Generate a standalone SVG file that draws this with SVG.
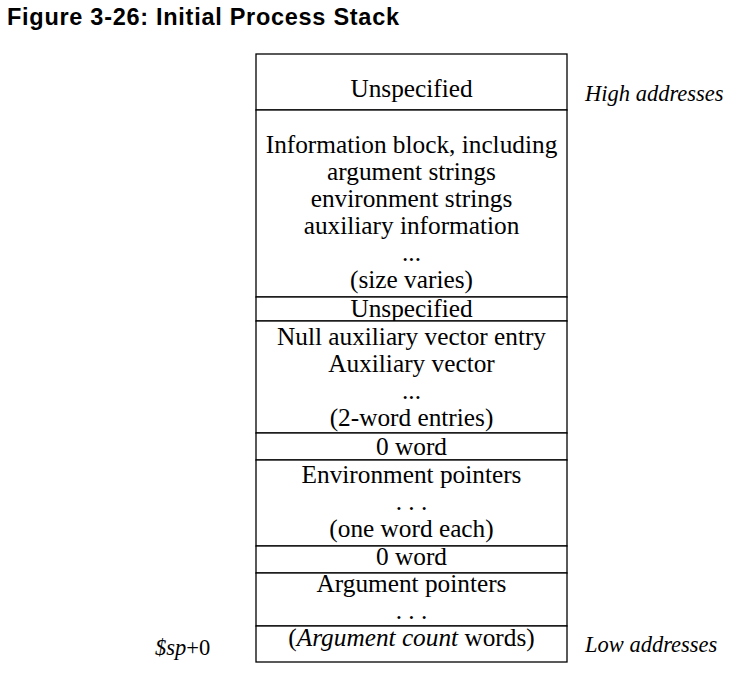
<svg xmlns="http://www.w3.org/2000/svg" width="750" height="676" viewBox="0 0 750 676">
<style>
.cell{fill:#fff;stroke:#000;stroke-width:1.3}
.t{font-family:"Liberation Serif","Times New Roman",serif;font-size:25.3px;fill:#000;text-anchor:middle}
.side{font-family:"Liberation Serif","Times New Roman",serif;font-size:22.5px;fill:#000;font-style:italic}
.title{font-family:"Liberation Sans",Arial,sans-serif;font-weight:bold;font-size:23.5px;fill:#000}
</style>
<rect width="750" height="676" fill="#fff"/>
<text class="title" x="7" y="25" textLength="392" lengthAdjust="spacing">Figure 3-26: Initial Process Stack</text>
<g id="cell-unspecified-top">
<rect class="cell" x="256" y="54" width="311" height="56"/>
<text class="t" x="411.5" y="97">Unspecified</text>
</g>
<g id="cell-info-block">
<rect class="cell" x="256" y="110" width="311" height="187"/>
<text class="t" x="411.5" y="153">Information block, including</text>
<text class="t" x="411.5" y="180">argument strings</text>
<text class="t" x="411.5" y="207">environment strings</text>
<text class="t" x="411.5" y="234">auxiliary information</text>
<text class="t" x="411.5" y="261">...</text>
<text class="t" x="411.5" y="288">(size varies)</text>
</g>
<g id="cell-unspecified-mid">
<rect class="cell" x="256" y="297" width="311" height="24"/>
<text class="t" x="411.5" y="317">Unspecified</text>
</g>
<g id="cell-aux-vector">
<rect class="cell" x="256" y="321" width="311" height="112"/>
<text class="t" x="411.5" y="345">Null auxiliary vector entry</text>
<text class="t" x="411.5" y="372">Auxiliary vector</text>
<text class="t" x="411.5" y="399">...</text>
<text class="t" x="411.5" y="426">(2-word entries)</text>
</g>
<g id="cell-zero-word-1">
<rect class="cell" x="256" y="433" width="311" height="27"/>
<text class="t" x="411.5" y="455">0 word</text>
</g>
<g id="cell-env-pointers">
<rect class="cell" x="256" y="460" width="311" height="86"/>
<text class="t" x="411.5" y="483">Environment pointers</text>
<text class="t" x="411.5" y="510">. . .</text>
<text class="t" x="411.5" y="537">(one word each)</text>
</g>
<g id="cell-zero-word-2">
<rect class="cell" x="256" y="546" width="311" height="27"/>
<text class="t" x="411.5" y="565">0 word</text>
</g>
<g id="cell-arg-pointers">
<rect class="cell" x="256" y="573" width="311" height="53"/>
<text class="t" x="411.5" y="592">Argument pointers</text>
<text class="t" x="411.5" y="619">. . .</text>
</g>
<g id="cell-arg-count">
<rect class="cell" x="256" y="626" width="311" height="36"/>
<text class="t" x="411.5" y="646">(<tspan font-style="italic">Argument count</tspan> words)</text>
</g>
<g id="labels">
<text class="side" x="585" y="101">High addresses</text>
<text class="side" x="585" y="652">Low addresses</text>
<text class="side" x="155" y="655">$sp<tspan font-style="normal">+0</tspan></text>
</g>
<g id="connectors"/>
</svg>
